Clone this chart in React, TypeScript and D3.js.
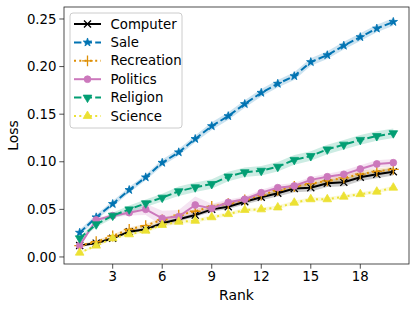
import React from 'react';
import * as d3 from 'd3';

const ranks = d3.range(1, 21);
const xTicks = [3, 6, 9, 12, 15, 18];
const yTicks = [0, 0.05, 0.1, 0.15, 0.2, 0.25];

const computer = [0.012, 0.0145, 0.0196, 0.0266, 0.029, 0.0354, 0.0396, 0.044, 0.05, 0.0528, 0.058, 0.0627, 0.0669, 0.072, 0.0728, 0.0774, 0.0784, 0.0837, 0.0868, 0.0896];
const computerStd = [0.001, 0.001, 0.0015, 0.0015, 0.002, 0.002, 0.002, 0.002, 0.0025, 0.0025, 0.003, 0.003, 0.0035, 0.004, 0.004, 0.004, 0.004, 0.004, 0.004, 0.004];
const sale = [0.0255, 0.0417, 0.0557, 0.0704, 0.0837, 0.099, 0.11, 0.124, 0.1375, 0.148, 0.1607, 0.1725, 0.182, 0.19, 0.2048, 0.212, 0.222, 0.231, 0.24, 0.247];
const saleStd = [0.003, 0.003, 0.003, 0.003, 0.003, 0.0035, 0.0035, 0.0035, 0.004, 0.004, 0.004, 0.004, 0.004, 0.004, 0.004, 0.004, 0.004, 0.004, 0.004, 0.004];
const recreation = [0.012, 0.016, 0.022, 0.029, 0.033, 0.039, 0.044, 0.048, 0.053, 0.056, 0.06, 0.065, 0.07, 0.074, 0.077, 0.08, 0.083, 0.087, 0.09, 0.092];
const recreationStd = [0.001, 0.0015, 0.0015, 0.002, 0.002, 0.002, 0.002, 0.002, 0.002, 0.002, 0.0025, 0.0025, 0.0025, 0.003, 0.003, 0.003, 0.003, 0.003, 0.003, 0.003];
const politics = [0.0119, 0.0389, 0.0434, 0.0465, 0.05, 0.0406, 0.0424, 0.0546, 0.051, 0.0574, 0.0606, 0.0675, 0.0728, 0.0746, 0.081, 0.0843, 0.0868, 0.0924, 0.0977, 0.099];
const politicsStd = [0.001, 0.002, 0.002, 0.003, 0.006, 0.008, 0.007, 0.009, 0.005, 0.003, 0.003, 0.003, 0.003, 0.003, 0.003, 0.003, 0.004, 0.004, 0.004, 0.004];
const religion = [0.0196, 0.0343, 0.0434, 0.05, 0.0564, 0.0623, 0.069, 0.0732, 0.0767, 0.0845, 0.089, 0.0906, 0.0948, 0.102, 0.106, 0.113, 0.118, 0.123, 0.127, 0.13];
const religionStd = [0.002, 0.003, 0.003, 0.004, 0.004, 0.004, 0.005, 0.005, 0.005, 0.005, 0.005, 0.005, 0.005, 0.005, 0.005, 0.005, 0.005, 0.005, 0.005, 0.005];
const science = [0.0045, 0.0119, 0.0196, 0.0238, 0.0276, 0.0336, 0.037, 0.038, 0.0417, 0.045, 0.0494, 0.05, 0.052, 0.057, 0.0606, 0.0606, 0.0633, 0.066, 0.0686, 0.0728];
const scienceStd = [0.001, 0.0015, 0.0015, 0.0015, 0.002, 0.002, 0.002, 0.002, 0.002, 0.002, 0.002, 0.002, 0.002, 0.002, 0.002, 0.002, 0.002, 0.002, 0.002, 0.002];

type Marker = 'x' | 'star' | 'plus' | 'circle' | 'down' | 'up';

const series: { name: string; values: number[]; std: number[]; color: string; dash: string; marker: Marker }[] = [
  { name: 'Computer', values: computer, std: computerStd, color: '#000000', dash: '', marker: 'x' },
  { name: 'Sale', values: sale, std: saleStd, color: '#0173b2', dash: '7.4,3.2', marker: 'star' },
  { name: 'Recreation', values: recreation, std: recreationStd, color: '#de8f05', dash: '2,3.3', marker: 'plus' },
  { name: 'Politics', values: politics, std: politicsStd, color: '#cc78bc', dash: '', marker: 'circle' },
  { name: 'Religion', values: religion, std: religionStd, color: '#029e73', dash: '7.4,3.2', marker: 'down' },
  { name: 'Science', values: science, std: scienceStd, color: '#ece133', dash: '2,3.3', marker: 'up' },
];

const W = 416;
const H = 310;
const plot = { left: 64, right: 409, top: 7, bottom: 264 };
const font = 'DejaVu Sans, sans-serif';

const x = d3.scaleLinear().domain([0.05, 20.95]).range([plot.left, plot.right]);
const y = d3.scaleLinear().domain([-0.0074, 0.2626]).range([plot.bottom, plot.top]);

function MarkerShape({ kind, cx, cy, color }: { kind: Marker; cx: number; cy: number; color: string }) {
  const t = `translate(${cx},${cy})`;
  if (kind === 'x') {
    const p = d3.symbol(d3.symbolTimes, 34)()!;
    return <path d={p} transform={t} fill="none" stroke={color} strokeWidth={1.3} />;
  }
  if (kind === 'plus') {
    const p = d3.symbol(d3.symbolPlus, 40)()!;
    return <path d={p} transform={t} fill="none" stroke={color} strokeWidth={1.3} />;
  }
  if (kind === 'star') {
    const p = d3.symbol(d3.symbolStar, 22)()!;
    return <path d={p} transform={t} fill={color} stroke={color} strokeWidth={0.8} />;
  }
  if (kind === 'circle') {
    return <circle cx={cx} cy={cy} r={3.4} fill={color} stroke={color} strokeWidth={0.8} />;
  }
  const p = d3.symbol(d3.symbolTriangle, 32)()!;
  return (
    <path d={p} transform={kind === 'down' ? `${t} rotate(180)` : t} fill={color} stroke={color} strokeWidth={0.8} />
  );
}

export default function App() {
  const line = d3.line<number>().x((_, i) => x(ranks[i])).y(d => y(d));
  return (
    <svg width={W} height={H} style={{ position: 'absolute', left: 0, top: 0, background: '#fff' }} fontFamily={font}>
      {/* bands */}
      {series.map(s => {
        const area = d3.area<number>()
          .x((_, i) => x(ranks[i]))
          .y0((d, i) => y(d - s.std[i]))
          .y1((d, i) => y(d + s.std[i]));
        return <path key={s.name + 'band'} d={area(s.values)!} fill={s.color} opacity={0.2} />;
      })}
      {/* lines */}
      {series.map(s => (
        <g key={s.name}>
          <path d={line(s.values)!} fill="none" stroke={s.color} strokeWidth={2} strokeDasharray={s.dash} />
          {s.values.map((v, i) => (
            <MarkerShape key={i} kind={s.marker} cx={x(ranks[i])} cy={y(v)} color={s.color} />
          ))}
        </g>
      ))}

      {/* frame */}
      <rect x={plot.left} y={plot.top} width={plot.right - plot.left} height={plot.bottom - plot.top}
        fill="none" stroke="#222" strokeWidth={0.8} />

      {/* x axis */}
      {xTicks.map(t => (
        <g key={t} transform={`translate(${x(t)},${plot.bottom})`}>
          <line y2={4.7} stroke="#222" strokeWidth={0.8} />
          <text y={17} textAnchor="middle" fontSize={13.3} fill="#000">{t}</text>
        </g>
      ))}
      <text x={(plot.left + plot.right) / 2} y={300} textAnchor="middle" fontSize={14} fill="#000">Rank</text>

      {/* y axis */}
      {yTicks.map(t => (
        <g key={t} transform={`translate(${plot.left},${y(t)})`}>
          <line x2={-4.7} stroke="#222" strokeWidth={0.8} />
          <text x={-7.5} dy="0.35em" textAnchor="end" fontSize={13.3} fill="#000">{t.toFixed(2)}</text>
        </g>
      ))}
      <text transform={`translate(18,${(plot.top + plot.bottom) / 2}) rotate(-90)`} textAnchor="middle" fontSize={14} fill="#000">Loss</text>

      {/* legend */}
      <g>
        <rect x={70} y={13} width={112} height={115} rx={3} fill="#fff" fillOpacity={0.8} stroke="#ccc" strokeWidth={1} />
        {series.map((s, i) => {
          const cy = 24 + i * 18.4;
          return (
            <g key={s.name + 'leg'}>
              <line x1={74} x2={101} y1={cy} y2={cy} stroke={s.color} strokeWidth={2} strokeDasharray={s.dash} />
              <MarkerShape kind={s.marker} cx={87.5} cy={cy} color={s.color} />
              <text x={110.5} y={cy} dy="0.35em" fontSize={13.3} fill="#000">{s.name}</text>
            </g>
          );
        })}
      </g>
    </svg>
  );
}
